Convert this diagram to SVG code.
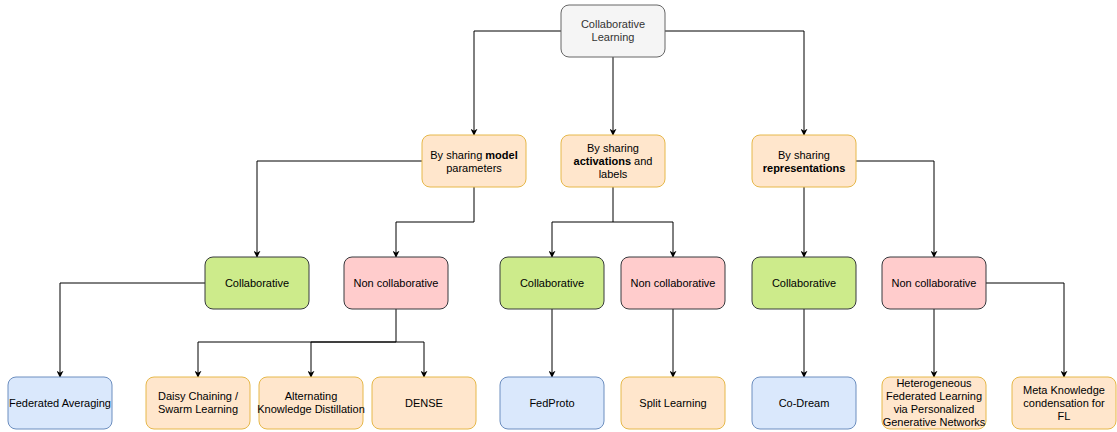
<svg xmlns="http://www.w3.org/2000/svg" width="1117" height="432" viewBox="0 0 1117 432">
<defs>
<marker id="ah" viewBox="0 0 10 10" refX="9" refY="5" markerWidth="7" markerHeight="7" orient="auto" markerUnits="userSpaceOnUse">
<path d="M0,0 L10,5 L0,10 L3,5 Z" fill="#000"/>
</marker>
<style>
text{font-family:"Liberation Sans",Arial,sans-serif;font-size:11px;fill:#000;text-anchor:middle}
.n rect{stroke-width:1}
.root rect{fill:#f5f5f5;stroke:#666666}
.root text{fill:#333333}
.or rect{fill:#ffe6cc;stroke:#e6b84a}
.gr rect{fill:#cdeb8b;stroke:#36393d}
.rd rect{fill:#ffcccc;stroke:#36393d}
.bl rect{fill:#dae8fc;stroke:#6c8ebf}
.c path{fill:none;stroke:#000;stroke-width:1}
.a{marker-end:url(#ah)}
b{font-weight:bold}
</style>
</defs>
<rect width="1117" height="432" fill="#fff"/>
<g id="connectors" class="c">
<path class="a" d="M561,31 H474 V135"/>
<path class="a" d="M613,57 V135"/>
<path class="a" d="M665,31 H804 V135"/>
<path class="a" d="M422,161 H257 V257"/>
<path class="a" d="M474,187 V222 H396 V257"/>
<path class="a" d="M613,187 V222 H552 V257"/>
<path class="a" d="M613,222 H673 V257"/>
<path class="a" d="M804,187 V257"/>
<path class="a" d="M856,161 H934 V257"/>
<path class="a" d="M205,283 H60 V377"/>
<path class="a" d="M396,309 V342 H198 V377"/>
<path class="a" d="M396,342 H311 V377"/>
<path class="a" d="M396,342 H424 V377"/>
<path class="a" d="M552,309 V377"/>
<path class="a" d="M673,309 V377"/>
<path class="a" d="M804,309 V377"/>
<path class="a" d="M934,309 V377"/>
<path class="a" d="M986,283 H1064 V377"/>
</g>
<g id="root" class="n root"><rect x="561" y="5" width="104" height="52" rx="8"/><text x="613" y="28">Collaborative</text><text x="613" y="41">Learning</text></g>
<g id="model" class="n or"><rect x="422" y="135" width="104" height="52" rx="8"/><text x="474" y="159">By sharing <tspan font-weight="bold">model</tspan></text><text x="474" y="172">parameters</text></g>
<g id="activations" class="n or"><rect x="561" y="135" width="104" height="52" rx="8"/><text x="613" y="152">By sharing</text><text x="613" y="165"><tspan font-weight="bold">activations</tspan> and</text><text x="613" y="178">labels</text></g>
<g id="representations" class="n or"><rect x="752" y="135" width="104" height="52" rx="8"/><text x="804" y="159">By sharing</text><text x="804" y="172" font-weight="bold">representations</text></g>
<g id="collab1" class="n gr"><rect x="205" y="257" width="104" height="52" rx="8"/><text x="257" y="287">Collaborative</text></g>
<g id="noncollab1" class="n rd"><rect x="344" y="257" width="104" height="52" rx="8"/><text x="396" y="287">Non collaborative</text></g>
<g id="collab2" class="n gr"><rect x="500" y="257" width="104" height="52" rx="8"/><text x="552" y="287">Collaborative</text></g>
<g id="noncollab2" class="n rd"><rect x="621" y="257" width="104" height="52" rx="8"/><text x="673" y="287">Non collaborative</text></g>
<g id="collab3" class="n gr"><rect x="752" y="257" width="104" height="52" rx="8"/><text x="804" y="287">Collaborative</text></g>
<g id="noncollab3" class="n rd"><rect x="882" y="257" width="104" height="52" rx="8"/><text x="934" y="287">Non collaborative</text></g>
<g id="fedavg" class="n bl"><rect x="8" y="377" width="104" height="52" rx="8"/><text x="60" y="407">Federated Averaging</text></g>
<g id="daisy" class="n or"><rect x="146" y="377" width="104" height="52" rx="8"/><text x="198" y="400">Daisy Chaining /</text><text x="198" y="413">Swarm Learning</text></g>
<g id="akd" class="n or"><rect x="259" y="377" width="104" height="52" rx="8"/><text x="311" y="400">Alternating</text><text x="311" y="413">Knowledge Distillation</text></g>
<g id="dense" class="n or"><rect x="372" y="377" width="104" height="52" rx="8"/><text x="424" y="407">DENSE</text></g>
<g id="fedproto" class="n bl"><rect x="500" y="377" width="104" height="52" rx="8"/><text x="552" y="407">FedProto</text></g>
<g id="split" class="n or"><rect x="621" y="377" width="104" height="52" rx="8"/><text x="673" y="407">Split Learning</text></g>
<g id="codream" class="n bl"><rect x="752" y="377" width="104" height="52" rx="8"/><text x="804" y="407">Co-Dream</text></g>
<g id="hetero" class="n or"><rect x="882" y="377" width="104" height="52" rx="8"/><text x="934" y="387">Heterogeneous</text><text x="934" y="400">Federated Learning</text><text x="934" y="413">via Personalized</text><text x="934" y="426">Generative Networks</text></g>
<g id="meta" class="n or"><rect x="1012" y="377" width="104" height="52" rx="8"/><text x="1064" y="394">Meta Knowledge</text><text x="1064" y="407">condensation for</text><text x="1064" y="420">FL</text></g>
</svg>
